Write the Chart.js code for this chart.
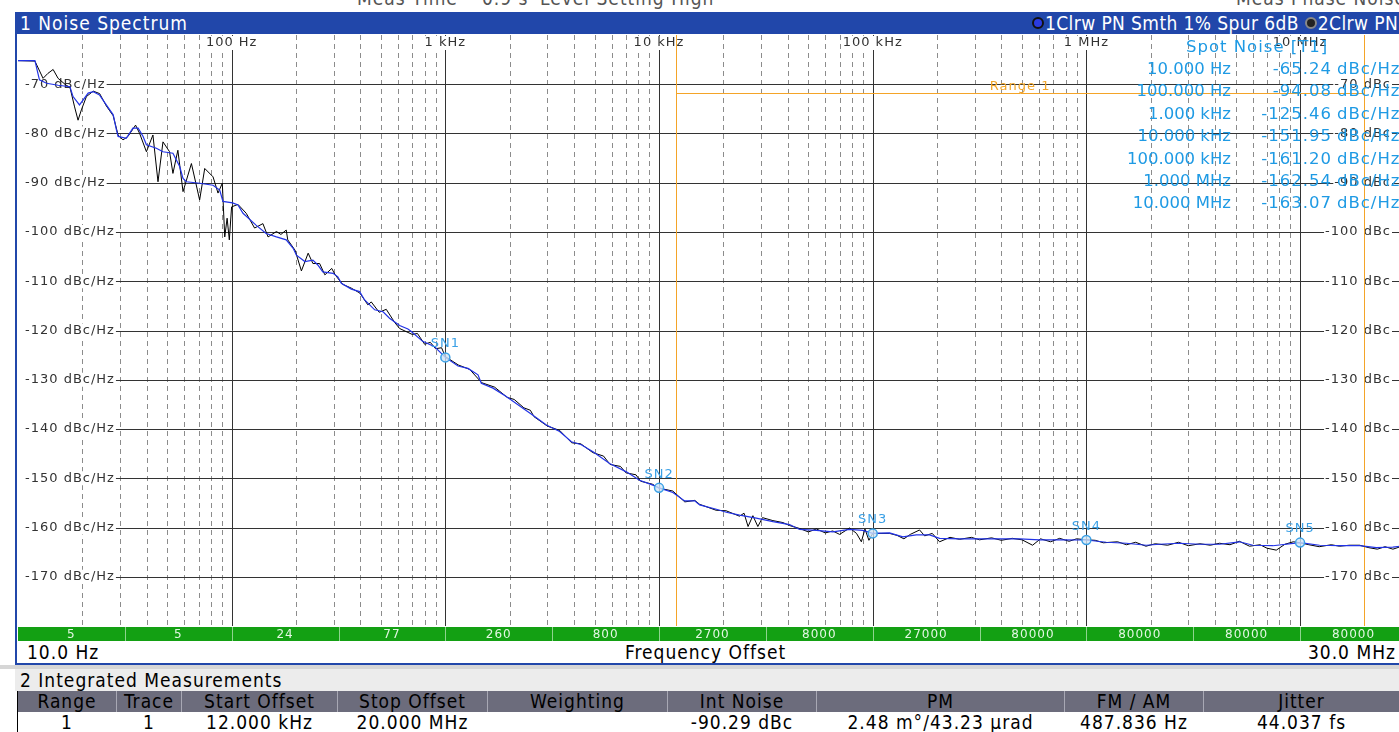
<!DOCTYPE html>
<html>
<head>
<meta charset="utf-8">
<script src="https://cdn.jsdelivr.net/npm/chart.js@4.4.1/dist/chart.umd.min.js"></script>
<style>
html, body { margin: 0; padding: 0; width: 1399px; height: 732px; overflow: hidden; background: #fff; }
body { position: relative; font-family: "DejaVu Sans Condensed", "DejaVu Sans", sans-serif; font-size: 19px; letter-spacing: 1px; }
.abs { position: absolute; white-space: nowrap; }
.top-info { top: -11px; line-height: 19px; color: #555; }
.titlebar { left: 15px; top: 12px; width: 1384px; height: 22px; background: #2147aa; color: #fff; line-height: 22px; overflow: hidden; }
.dot { display: inline-block; width: 8px; height: 8px; border-radius: 50%; vertical-align: 1px; margin-right: 1px; }
.spot { font-family: "DejaVu Sans", sans-serif; font-size: 16.5px; line-height: 20px; color: #1e9ae4; letter-spacing: 0; }
.axisrow { top: 642px; line-height: 20px; color: #000; }
.table-cell { line-height: 20px; text-align: center; box-sizing: border-box; overflow: hidden; }
</style>
</head>
<body>
<!-- partly hidden status line above the window -->
<div class="abs top-info" style="left:357px">Meas Time</div>
<div class="abs top-info" style="left:482px">0.9 s</div>
<div class="abs top-info" style="left:540px">Level Setting High</div>
<div class="abs top-info" style="left:1236px">Meas Phase Noise</div>

<div class="abs titlebar">
  <span class="abs" style="left:5px">1 Noise Spectrum</span>
  <span class="abs" style="left:1017px;letter-spacing:0.4px"><span class="dot" style="background:#2a3be0;border:2px solid #111"></span>1Clrw PN Smth 1% Spur 6dB <span class="dot" style="background:#222;border:2px solid #888"></span>2Clrw PN</span>
</div>
<div class="abs" style="left:15px;top:34px;width:2px;height:631px;background:#2147aa"></div>

<canvas id="noiseChart" width="1384" height="606" style="position:absolute;left:18px;top:35px"></canvas>

<div id="spotTable"></div>

<div class="abs axisrow" style="left:27px">10.0 Hz</div>
<div class="abs axisrow" style="left:625px">Frequency Offset</div>
<div class="abs axisrow" style="right:3px">30.0 MHz</div>
<div class="abs" style="left:15px;top:663px;width:1384px;height:2px;background:#2147aa"></div>
<div class="abs" style="left:0;top:665px;width:1399px;height:4px;background:#d6d6d6"></div>
<div class="abs" style="left:15px;top:669px;width:1384px;height:22px;background:#ececec;line-height:22px;padding-left:5px">2 Integrated Measurements</div>
<div id="measTable"></div>

<script>
// Trace 1 (blue, smoothed) - offset frequency in Hz and level in dBc/Hz
const trace1Freq = [10, 12.0, 12.6, 13.6, 15.4, 17.5, 18.1, 19.4, 21.3, 22.5, 24.1, 25.9, 27.9, 28.9, 29.4, 32.1, 34.5, 36.5, 38.5, 39.9,
  44.4, 47.7, 53.1, 57.1, 59.2, 61.4, 70.8, 81.8, 87.9, 91.0, 101, 107, 113, 130, 145, 162, 180, 194, 201, 220,
  240, 253, 267, 298, 314, 326, 363, 397, 419, 467, 511, 548, 611, 668, 693, 783, 891, 1000, 1146, 1276,
  1422, 1473, 1671, 1928, 2307, 2570, 2970, 3427, 3890, 4327, 4909, 5875, 7031, 8110, 9355, 10000, 11610, 13183, 14690, 15490,
  18540, 20650, 23830, 28510, 34120, 40830, 45500, 54460, 65160, 77980, 89950, 100000, 119900, 138400, 159900, 184500, 205600, 255300, 316400, 392600,
  486700, 604000, 749600, 1000000, 1239000, 1538000, 1906000, 2200000, 2729000, 3388000, 4199000, 5212000, 6012000, 7460000, 10000000, 12340000, 15310000, 19000000, 22750000, 27170000, 30000000];
const trace1Level = [-65.2, -65.2, -69.1, -69.8, -70.2, -70.5, -72.5, -74.2, -71.8, -71.5, -72.2, -74.2, -76.2, -79.3, -80.6, -81.0, -78.9, -78.9, -80.6, -82.3,
  -83.0, -83.7, -84.0, -86.7, -89.1, -89.8, -90.1, -90.5, -91.5, -93.8, -94.1, -94.5, -96.2, -98.6, -100.3, -101.0, -101.6, -103.3, -104.7, -106.0,
  -105.7, -106.7, -108.1, -108.4, -109.1, -110.4, -111.6, -112.1, -113.8, -115.8, -116.2, -117.5, -119.0, -119.7, -120.2, -122.2, -123.3, -125.46, -127.2, -127.7,
  -129.0, -130.7, -131.7, -133.4, -135.8, -137.2, -139.2, -140.5, -142.6, -143.2, -144.6, -147.0, -148.7, -150.4, -151.4, -151.95, -152.9, -154.6, -154.6, -155.4,
  -156.3, -156.9, -157.5, -158.1, -158.8, -159.4, -160.4, -160.6, -160.9, -160.4, -160.6, -161.2, -161.1, -161.9, -161.5, -161.5, -162.2, -162.3, -162.3, -162.3,
  -162.3, -162.5, -162.5, -162.54, -163.0, -163.2, -163.6, -163.4, -163.2, -163.4, -163.4, -162.9, -163.6, -163.7, -163.07, -163.6, -163.7, -163.7, -164.1, -164.0, -163.8];

// Trace 2 (black, raw)
const trace2Freq = [10, 12.0, 13.1, 13.8, 14.6, 15.4, 16.8, 17.5, 18.4, 19.1, 19.8, 20.9, 22.5, 24.1, 25.9, 27.9, 29.4, 31.0, 32.7, 35.5,
  37.1, 39.9, 42.8, 45.2, 47.7, 51.2, 53.1, 56.0, 59.2, 64.8, 70.8, 74.8, 81.8, 86.3, 90.4, 92.8, 95.2, 97.5, 99.9, 107,
  117, 128, 140, 148, 162, 170, 180, 183, 198, 212, 228, 240, 258, 273, 294, 305, 330, 363, 398, 434,
  450, 490, 529, 580, 611, 700, 740, 800, 850, 900, 960, 1000, 1150, 1300, 1480, 1700, 1950, 2100, 2330, 2500,
  2600, 3000, 3430, 3900, 4300, 4900, 5500, 5900, 6600, 7000, 7800, 8200, 9300, 10000, 11600, 13200, 14700, 15500, 18500, 20600,
  23800, 25000, 26100, 27500, 29000, 30500, 34100, 38000, 40800, 45500, 50000, 54500, 60000, 65000, 70000, 78000, 84000, 88500, 92000, 96000,
  100000, 120000, 130000, 140000, 150000, 165700, 175000, 190000, 205600, 230000, 255000, 290000, 316000, 360000, 400000, 450000, 500000, 560000, 610000, 680000,
  750000, 830000, 900000, 1000000, 1100000, 1200000, 1400000, 1540000, 1700000, 1900000, 2100000, 2400000, 2700000, 3000000, 3400000, 3800000, 4200000, 4700000, 5200000, 5800000,
  6500000, 7000000, 7740000, 8500000, 9300000, 10000000, 11000000, 12300000, 14000000, 15300000, 17000000, 19000000, 21000000, 23000000, 25000000, 27200000, 30000000];
const trace2Level = [-65.2, -65.3, -68.8, -67.8, -67.0, -68.8, -70.2, -70.6, -74.6, -77.3, -75.2, -72.5, -71.4, -71.9, -74.4, -76.4, -80.3, -81.3, -80.6, -78.3,
  -80.0, -83.7, -80.3, -89.8, -81.7, -83.7, -88.1, -83.4, -91.8, -86.1, -93.5, -87.1, -88.8, -92.1, -90.1, -101.0, -97.2, -101.6, -94.9, -94.4,
  -96.2, -99.2, -98.3, -101.0, -99.9, -100.5, -99.6, -101.6, -103.7, -107.9, -104.3, -106.4, -106.4, -108.7, -107.4, -108.7, -110.6, -111.4, -112.4, -114.8,
  -114.2, -116.3, -115.7, -118.4, -119.6, -120.8, -120.6, -122.8, -122.4, -123.7, -123.5, -125.3, -127.0, -127.9, -130.6, -131.5, -133.6, -134.0, -135.7, -136.2,
  -137.5, -139.4, -140.3, -142.8, -143.0, -144.8, -145.5, -147.2, -147.6, -148.9, -149.3, -150.6, -151.2, -152.0, -152.6, -154.8, -154.5, -155.3, -156.5, -156.6,
  -157.7, -157.1, -159.8, -157.6, -159.8, -158.0, -158.6, -159.0, -159.6, -160.2, -160.9, -160.3, -161.1, -160.7, -161.4, -160.1, -161.2, -162.9, -160.3, -162.6,
  -161.2, -161.2, -161.6, -162.3, -161.4, -160.5, -161.7, -161.2, -162.9, -162.0, -162.4, -162.0, -162.5, -162.1, -162.6, -162.2, -162.5, -163.6, -162.3, -162.9,
  -162.2, -162.8, -162.3, -162.5, -162.6, -163.1, -162.9, -163.5, -163.0, -163.8, -163.3, -163.6, -163.0, -163.7, -163.3, -163.6, -163.2, -163.5, -162.8, -163.8,
  -163.5, -164.2, -164.6, -163.4, -162.9, -163.1, -163.5, -163.9, -163.5, -163.8, -163.6, -163.6, -164.1, -164.4, -163.9, -164.4, -163.8];

// Spot noise markers (trace 1)
const spotNames = ['SN1', 'SN2', 'SN3', 'SN4', 'SN5'];
const spotFreq = [1e3, 1e4, 1e5, 1e6, 1e7];
const spotLevel = [-125.46, -151.95, -161.20, -162.54, -163.07];

// Spot noise table
const spotTableFreq = ['10.000 Hz', '100.000 Hz', '1.000 kHz', '10.000 kHz', '100.000 kHz', '1.000 MHz', '10.000 MHz'];
const spotTableLevel = ['-65.24', '-94.08', '-125.46', '-151.95', '-161.20', '-162.54', '-163.07'];

// Integration range 1
const rangeStart = 12e3;
const rangeStop = 20e6;
const rangeLevel = -71.8;

// Axes
const levelTicks = [-70, -80, -90, -100, -110, -120, -130, -140, -150, -160, -170];
const decadeTicks = [100, 1e3, 1e4, 1e5, 1e6, 1e7];
const decadeLabels = ['100 Hz', '1 kHz', '10 kHz', '100 kHz', '1 MHz', '10 MHz'];

// RBW bar (half decade segments)
const rbwStart = [10, 31.62, 100, 316.2, 1e3, 3162, 1e4, 31620, 1e5, 316200, 1e6, 3162000, 1e7];
const rbwValues = ['5', '5', '24', '77', '260', '800', '2700', '8000', '27000', '80000', '80000', '80000', '80000'];

// Integrated measurements table
const measHeaders = ['Range', 'Trace', 'Start Offset', 'Stop Offset', 'Weighting', 'Int Noise', 'PM', 'FM / AM', 'Jitter'];
const measValues = ['1', '1', '12.000 kHz', '20.000 MHz', '', '-90.29 dBc', '2.48 m\u00b0/43.23 \u00b5rad', '487.836 Hz', '44.037 fs'];

const toPoints = (xs, ys) => xs.map((f, i) => ({ x: f, y: ys[i] }));

// spot table on top of the plot
let html = '<div class="abs spot" style="left:1186px;top:37px;letter-spacing:1px">Spot Noise [T1]</div>';
spotTableFreq.forEach((f, i) => {
  const top = 59 + i * 22.4;
  html += `<div class="abs spot" style="right:168px;top:${top}px">${f}</div>`;
  html += `<div class="abs spot" style="right:67px;top:${top}px;letter-spacing:1px">${spotTableLevel[i]}</div>`;
  html += `<div class="abs spot" style="left:1337px;top:${top}px;letter-spacing:1px">dBc/Hz</div>`;
});
document.getElementById('spotTable').innerHTML = html;

// integrated measurements table
const colEdges = [17, 116, 181, 337, 487, 667, 816, 1064, 1203, 1399];
let tbl = '';
measHeaders.forEach((h, i) => {
  const l = colEdges[i], w = colEdges[i + 1] - l;
  tbl += `<div class="abs table-cell" style="left:${l}px;top:691px;width:${w}px;height:21px;background:#6c6c7c;border-left:1px solid ${i ? '#a8a8b4' : '#000'};color:#000">${h}</div>`;
  tbl += `<div class="abs table-cell" style="left:${l}px;top:712px;width:${w}px;height:20px;background:#fff;border-left:1px solid ${i ? '#fff' : '#000'};color:#000">${measValues[i]}</div>`;
});
document.getElementById('measTable').innerHTML = tbl;

const LABEL_FONT = '13px "DejaVu Sans", sans-serif';

// Gitter, Achsentexte und Range-Linien selbst zeichnen
const analyzerPlugin = {
  id: 'analyzer',
  beforeDatasetsDraw(chart) {
    const { ctx, chartArea: { left, right, top, bottom }, scales: { x, y } } = chart;
    ctx.save();
    ctx.fillStyle = '#fff';
    ctx.fillRect(left, top, right - left, bottom - top);
    ctx.lineWidth = 1;

    // minor frequency lines
    ctx.strokeStyle = '#8c8c8c';
    ctx.setLineDash([5, 4]);
    ctx.beginPath();
    for (let d = 10; d < 3e7; d *= 10) {
      for (let m = 2; m <= 9; m++) {
        if (d * m >= 3e7) break;
        const px = Math.round(x.getPixelForValue(d * m)) + 0.5;
        ctx.moveTo(px, top); ctx.lineTo(px, bottom);
      }
    }
    ctx.stroke();
    ctx.setLineDash([]);

    // decades and levels
    ctx.strokeStyle = '#333';
    ctx.beginPath();
    decadeTicks.forEach(f => {
      const px = Math.round(x.getPixelForValue(f)) + 0.5;
      ctx.moveTo(px, top); ctx.lineTo(px, bottom);
    });
    levelTicks.forEach(v => {
      const py = Math.round(y.getPixelForValue(v)) + 0.5;
      ctx.moveTo(left, py); ctx.lineTo(right, py);
    });
    ctx.stroke();

    ctx.font = LABEL_FONT;
    ctx.textBaseline = 'middle';
    const label = (txt, px, py, align, padLeft) => {
      ctx.textAlign = align;
      const w = ctx.measureText(txt).width;
      const x0 = align === 'left' ? px : align === 'right' ? px - w : px - w / 2;
      ctx.fillStyle = '#fff';
      ctx.fillRect(x0 - 1 - (padLeft || 0), py - 7, w + 2 + (padLeft || 0), 14);
      ctx.fillStyle = '#333';
      ctx.fillText(txt, px, py);
    };
    levelTicks.forEach(v => {
      const py = y.getPixelForValue(v);
      label(`${v} dBc/Hz`, left + 7, py, 'left', 7);
      label(`${v} dBc`, left + 1373, py, 'right');
    });
    decadeTicks.forEach((f, i) => label(decadeLabels[i], x.getPixelForValue(f), top + 8, 'center'));

    // Range 1
    ctx.strokeStyle = '#f4a428';
    const xa = Math.round(x.getPixelForValue(rangeStart)) + 0.5;
    const xb = Math.round(x.getPixelForValue(rangeStop)) + 0.5;
    const yr = Math.round(y.getPixelForValue(rangeLevel)) + 0.5;
    ctx.beginPath();
    ctx.moveTo(xa, top); ctx.lineTo(xa, bottom);
    ctx.moveTo(xb, top); ctx.lineTo(xb, bottom);
    ctx.moveTo(xa, yr); ctx.lineTo(xb, yr);
    ctx.stroke();
    ctx.fillStyle = '#f2a62a';
    ctx.textAlign = 'center';
    ctx.textBaseline = 'bottom';
    ctx.fillText('Range 1', x.getPixelForValue(Math.sqrt(rangeStart * rangeStop)), yr);
    ctx.restore();
  },
  afterDatasetsDraw(chart) {
    const { ctx, scales: { x, y } } = chart;
    ctx.save();
    ctx.font = LABEL_FONT;
    ctx.fillStyle = '#3aa0e6';
    ctx.textAlign = 'center';
    ctx.textBaseline = 'bottom';
    spotFreq.forEach((f, i) => ctx.fillText(spotNames[i], x.getPixelForValue(f), y.getPixelForValue(spotLevel[i]) - 7));
    ctx.restore();
  },
  afterDraw(chart) {
    const { ctx, chartArea: { left, bottom }, scales: { x } } = chart;
    const barTop = bottom + 1, barH = 14;
    ctx.save();
    ctx.fillStyle = '#13a013';
    ctx.fillRect(left, barTop, chart.width - left, barH);
    ctx.font = '12px "DejaVu Sans", sans-serif';
    ctx.textAlign = 'center';
    ctx.textBaseline = 'middle';
    rbwStart.forEach((f, i) => {
      const x0 = x.getPixelForValue(f);
      const f1 = i + 1 < rbwStart.length ? rbwStart[i + 1] : f * 3.162;
      const x1 = x.getPixelForValue(f1);
      if (i > 0) {
        ctx.fillStyle = '#8fd48f';
        ctx.fillRect(Math.round(x0), barTop, 1, barH);
      }
      ctx.fillStyle = '#e4f7e4';
      ctx.fillText(rbwValues[i], (x0 + x1) / 2, barTop + barH / 2 + 1);
    });
    ctx.restore();
  }
};

const ctx = document.getElementById('noiseChart').getContext('2d');
const noiseChart = new Chart(ctx, {
  type: 'line',
  data: {
    datasets: [
      {
        label: 'SN',
        data: toPoints(spotFreq, spotLevel),
        showLine: false,
        pointRadius: 4.5,
        pointBorderWidth: 1.5,
        pointBorderColor: '#3aa0e6',
        pointBackgroundColor: 'rgba(205,228,245,0.8)',
        order: 0
      },
      {
        label: '1Clrw PN Smth 1% Spur 6dB',
        data: toPoints(trace1Freq, trace1Level),
        borderColor: '#2233e6',
        borderWidth: 1.2,
        pointRadius: 0,
        tension: 0,
        order: 1
      },
      {
        label: '2Clrw PN',
        data: toPoints(trace2Freq, trace2Level),
        borderColor: '#000',
        borderWidth: 1,
        pointRadius: 0,
        tension: 0,
        order: 2
      }
    ]
  },
  options: {
    responsive: false,
    animation: false,
    layout: { autoPadding: false, padding: { left: 0, top: 0, right: 0, bottom: 15 } },
    plugins: {
      legend: { display: false },
      tooltip: { enabled: false }
    },
    scales: {
      x: { type: 'logarithmic', min: 10, max: 3e7, display: false },
      y: { type: 'linear', min: -180, max: -60, display: false }
    }
  },
  plugins: [analyzerPlugin]
});
</script>
</body>
</html>
